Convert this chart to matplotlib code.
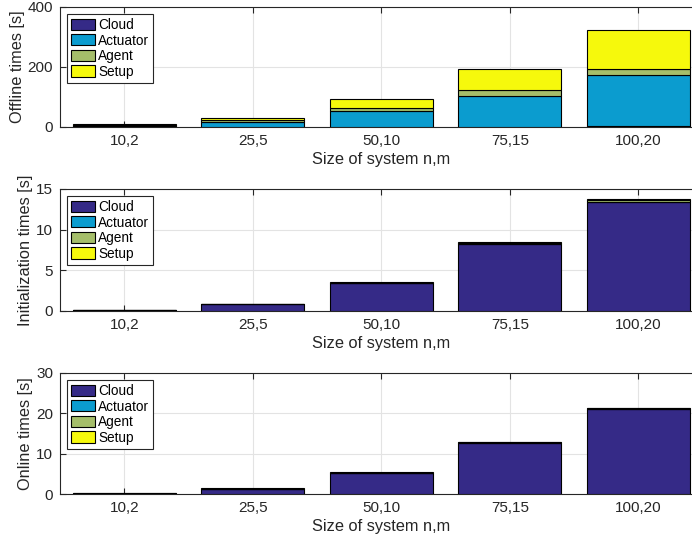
import matplotlib
matplotlib.use("Agg")
import matplotlib.pyplot as plt
import numpy as np

plt.rcParams['font.family'] = ['Liberation Sans', 'DejaVu Sans']

categories = ["10,2", "25,5", "50,10", "75,15", "100,20"]
series_names = ["Cloud", "Actuator", "Agent", "Setup"]

offline_cloud = [0.5, 0.5, 1.0, 1.5, 2.0]
offline_actuator = [4.0, 16.0, 52.0, 103.0, 170.0]
offline_agent = [2.0, 7.0, 11.0, 20.0, 22.0]
offline_setup = [2.5, 8.0, 30.0, 69.0, 128.0]

init_cloud = [0.12, 0.8, 3.4, 8.2, 13.4]
init_actuator = [0.01, 0.01, 0.02, 0.03, 0.04]
init_agent = [0.02, 0.04, 0.08, 0.12, 0.15]
init_setup = [0.02, 0.03, 0.05, 0.08, 0.15]

online_cloud = [0.1, 1.15, 5.1, 12.65, 21.0]
online_actuator = [0.01, 0.02, 0.03, 0.05, 0.07]
online_agent = [0.05, 0.12, 0.2, 0.2, 0.25]
online_setup = [0.02, 0.08, 0.05, 0.05, 0.05]

colors = ["#352a87", "#0b9ccf", "#a5be6a", "#f6f90c"]

panels = [
    ("Offline times [s]", [offline_cloud, offline_actuator, offline_agent, offline_setup], [0, 200, 400], 400),
    ("Initialization times [s]", [init_cloud, init_actuator, init_agent, init_setup], [0, 5, 10, 15], 15),
    ("Online times [s]", [online_cloud, online_actuator, online_agent, online_setup], [0, 10, 20, 30], 30),
]

W, H = 692, 541
fig = plt.figure(figsize=(W / 100, H / 100), dpi=100)

# (top_px, bottom_px)
boxes = [(7, 127), (189, 311), (373, 494)]
left_px, right_px = 60, 702.6

x = np.arange(1, len(categories) + 1)
axcol = "#262626"
for (ylabel, data, yticks, ymax), (tp, bp) in zip(panels, boxes):
    ax = fig.add_axes([left_px / W, 1 - bp / H, (right_px - left_px) / W, (bp - tp) / H])
    bottom = np.zeros(len(categories))
    for name, vals, c in zip(series_names, data, colors):
        vals = np.array(vals)
        ax.bar(x, vals, 0.8, bottom=bottom, color=c, edgecolor="black",
               linewidth=0.8, label=name, zorder=3)
        bottom = bottom + vals
    ax.set_xlim(0.5, 5.5)
    ax.set_ylim(0, ymax)
    ax.set_xticks(x)
    ax.set_xticklabels(categories)
    ax.set_yticks(yticks)
    ax.grid(True, color="#e3e3e3", linewidth=0.8, zorder=0)
    ax.set_axisbelow(True)
    ax.tick_params(direction="in", top=True, right=True, length=4, width=0.8,
                   colors=axcol, labelsize=11, labelcolor=axcol, pad=5)
    for s in ax.spines.values():
        s.set_color(axcol)
        s.set_linewidth(0.8)
    ax.set_xlabel("Size of system n,m", fontsize=11.8, color=axcol, labelpad=3)
    ax.set_ylabel(ylabel, fontsize=11.8, color=axcol, labelpad=2)
    leg = ax.legend(loc="upper left", fontsize=9.8, handlelength=1.8, handleheight=0.9,
                    labelspacing=0.12, handletextpad=0.2, borderpad=0.3,
                    borderaxespad=0.5, fancybox=False, framealpha=1)
    leg.get_frame().set_edgecolor(axcol)
    leg.get_frame().set_linewidth(0.8)

fig.savefig("out.png", dpi=100)
